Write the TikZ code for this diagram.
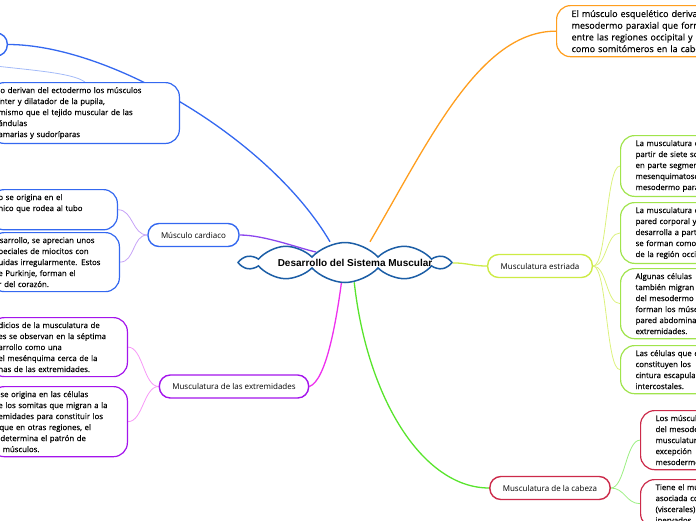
\documentclass[tikz,border=0pt]{standalone}
\usepackage{fontspec}
\setmainfont{Open Sans}
\newfontfamily\cloudfont{Liberation Sans}
\newfontfamily\leaffont{Open Sans}[FakeBold=0.35]
\usetikzlibrary{positioning,shapes.symbols,backgrounds}
\definecolor{mmnavy}{HTML}{1C5EA6}
\definecolor{mmblue}{HTML}{3468F0}
\definecolor{mmorange}{HTML}{FF9E1E}
\definecolor{mmpurple}{HTML}{8C46EE}
\definecolor{mmviolet}{HTML}{A414EC}
\definecolor{mmmagenta}{HTML}{EE30EE}
\definecolor{mmgreen}{HTML}{58E42C}
\definecolor{mmlime}{HTML}{CDEB45}
\definecolor{mmleaf}{HTML}{A0E44C}
\definecolor{mmred}{HTML}{CC2A4A}

\begin{document}
\begin{tikzpicture}[x=1pt,y=-1pt,
    topic/.style={draw,line width=1.4pt,fill=white,rounded corners=11pt,minimum height=23pt,
      inner xsep=13pt,font=\fontsize{8}{10}\selectfont},
    leaf/.style={draw,line width=1.2pt,fill=white,rounded corners=14pt,align=left,
      inner ysep=4.5pt,font=\leaffont\fontsize{7.8}{11}\selectfont},
    leafl/.style={leaf,anchor=north east,inner xsep=8pt},
    leafr/.style={leaf,anchor=north west,inner xsep=15pt,text width=160pt},
    link/.style={line width=1.3pt},
    twig/.style={line width=0.8pt}]
  \useasboundingbox (0,0) rectangle (696,520);
  \clip (0,0) rectangle (696,520);

  % centre
  \node[cloud,cloud puffs=10,cloud puff arc=95,cloud ignores aspect,inner sep=0pt,
    minimum width=205pt,minimum height=40pt,draw=mmnavy,line width=1.5pt,fill=white] (cld) at (345,262.5) {};
  \node[font=\cloudfont\bfseries\fontsize{10}{12}\selectfont] (ttl) at (355,263) {Desarrollo del Sistema Muscular};

  % left branches
  \node[topic,draw=mmblue,anchor=east,minimum width=110pt] (lisa) at (8,44.5) {};
  \node[leafl,draw=mmblue,text width=173pt] (lisa1) at (180,82)
    {lo derivan del ectodermo los músculos\\
     \hspace*{-3pt}fínter y dilatador de la pupila,\\
     mismo que el tejido muscular de las\\
     ándulas\\
     amarias y sudoríparas};

  \node[topic,draw=mmblue] (card) at (193.5,235) {Músculo cardiaco};
  \node[leafl,draw=mmblue,text width=111pt] (card1) at (118,189)
    {o se origina en el\\
     nico que rodea al tubo\\\strut};
  \node[leafl,draw=mmblue,text width=113pt] (card2) at (120,232)
    {\hspace*{-3pt}esarrollo, se aprecian unos\\
     peciales de miocitos con\\
     uidas irregularmente. Estos\\
     e Purkinje, forman el\\
     r del corazón.};

  \node[topic,draw=mmviolet] (ext) at (234,386.5) {Musculatura de las extremidades};
  \node[leafl,draw=mmviolet,text width=121pt] (ext1) at (128,317)
    {dicios de la musculatura de\\
     es se observan en la séptima\\
     arrollo como una\\
     el mesénquima cerca de la\\
     nas de las extremidades.};
  \node[leafl,draw=mmviolet,text width=121pt] (ext2) at (128,386)
    {\hspace*{2pt}se origina en las células\\
     e los somitas que migran a la\\
     emidades para constituir los\\
     \hspace*{1pt}que en otras regiones, el\\
     \hspace*{2pt}determina el patrón de\\
     \hspace*{-2pt}s músculos.};

  % right branches
  \node[leafr,draw=mmorange,font=\leaffont\fontsize{9}{11.7}\selectfont] (esq) at (556,5)
    {El músculo esquelético deriva del\\
     mesodermo paraxial que forma\\
     entre las regiones occipital y sacra\\
     como somitómeros en la cabeza};

  \node[topic,draw=mmlime] (estr) at (540,266) {Musculatura estriada};
  \node[leafr,draw=mmleaf] (estr1) at (620,135)
    {La musculatura epiaxial\\
     partir de siete somitas\\
     en parte segmentados\\
     mesenquimatosos del\\
     mesodermo paraxial};
  \node[leafr,draw=mmleaf] (estr2) at (620,202)
    {La musculatura de la\\
     pared corporal y\\
     desarrolla a partir\\
     se forman como\\
     de la región occipital};
  \node[leafr,draw=mmleaf] (estr3) at (620,268)
    {Algunas células\\
     también migran\\
     del mesodermo\\
     forman los músculos\\
     pared abdominal\\
     extremidades.};
  \node[leafr,draw=mmleaf] (estr4) at (620,345)
    {Las células que crecen\\
     constituyen los\\
     cintura escapular\\
     intercostales.};

  \node[topic,draw=mmred] (cab) at (550,488) {Musculatura de la cabeza};
  \node[leafr,draw=mmred] (cab1) at (640,410)
    {Los músculos\\
     del mesodermo\\
     musculatura\\
     excepción\\
     mesodermo};
  \node[leafr,draw=mmred] (cab2) at (640,479)
    {Tiene el músculo\\
     asociada con\\
     (viscerales)\\
     inervados};

  % connectors
  \begin{scope}[on background layer]
    \draw[link,mmblue] (lisa.east) .. controls +(102,0) and +(-60,-102.5) .. ([xshift=-15pt]cld.north);
    \draw[link,mmorange] ([xshift=25pt]cld.north) .. controls +(60,-103) and +(-76,0) .. (esq.west);
    \draw[link,mmpurple] (card.east) .. controls +(25,0) and +(-15,-3) .. (cld.160);
    \draw[link,mmmagenta] (ext.east) .. controls +(17,-6) and +(-5,37) .. (cld.260);
    \draw[link,mmgreen] (cld.295) .. controls +(13,117) and +(-66,0) .. (cab.west);
    \draw[link,mmlime] (cld.east) .. controls +(15,0) and +(-15,0) .. (estr.west);

    \draw[twig,mmblue!45] (lisa.south) .. controls +(20,12) and +(-18,-14) .. (lisa1.north);
    \foreach \k in {card1,card2}
      \draw[twig,mmpurple!50] (card.west) .. controls +(-15,0) and +(15,0) .. (\k.east);
    \foreach \k in {ext1,ext2}
      \draw[twig,mmmagenta!50] (ext.west) .. controls +(-15,0) and +(15,0) .. (\k.east);
    \foreach \k in {estr1,estr2,estr3,estr4}
      \draw[twig,mmlime!70] (estr.east) .. controls +(14,0) and +(-14,0) .. (\k.west);
    \foreach \k in {cab1,cab2}
      \draw[twig,mmgreen!60] (cab.east) .. controls +(14,0) and +(-14,0) .. (\k.west);
  \end{scope}
\end{tikzpicture}
\end{document}
